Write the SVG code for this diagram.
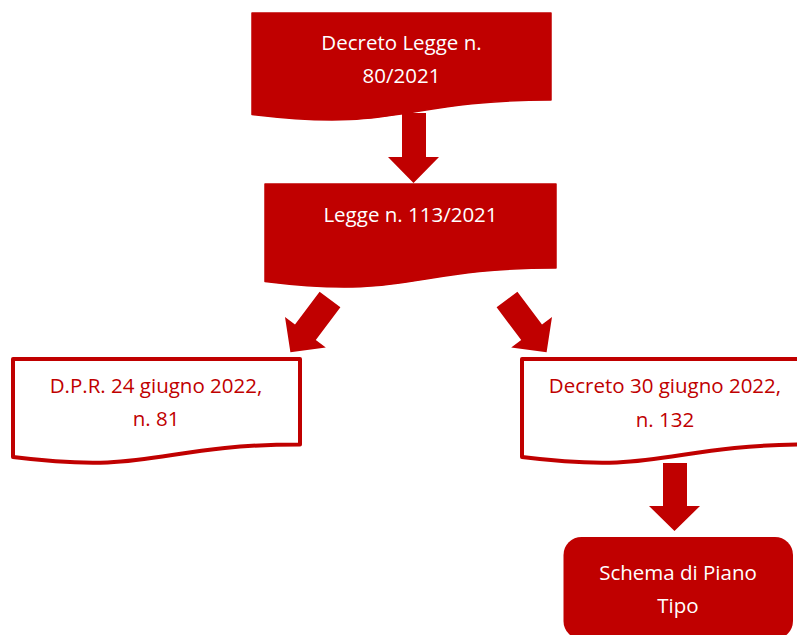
<svg xmlns="http://www.w3.org/2000/svg" width="797" height="635" viewBox="0 0 797 635">
<style>
.solid{fill:#C00000;stroke:#C00000;stroke-width:1.5;stroke-linejoin:round}
.outline{fill:#FFFFFF;stroke:#C00000;stroke-width:4;stroke-linejoin:round}
.arrow{fill:#C00000;stroke:none}
text{font-family:"Open Sans","Noto Sans","Liberation Sans",sans-serif;font-size:20.5px;text-anchor:middle}
.w{fill:#FFFFFF}
.r{fill:#C00000}
</style>
<rect width="797" height="635" fill="#FFFFFF"/>
<g id="connectors">
<polygon class="arrow" points="402,113 426,113 426,157 439,157 413.5,183 388,157 402,157"/>
<polygon class="arrow" points="319.6,291.7 340.4,307.3 315.8,340.1 325.8,347.6 290.4,352.3 285,317 295,324.5"/>
<polygon class="arrow" points="517.4,291.7 496.6,307.3 521.2,340.1 511.2,347.6 546.6,352.3 552,317 542,324.5"/>
<polygon class="arrow" points="663,463 687,463 687,506 700,506 674.5,531 649,506 663,506"/>
</g>
<g id="n1">
<path class="solid" d="M252,13 L551,13 L551,100 C401.5,100 401.5,132.6 252,114.5 Z"/>
<text class="w" x="401.5" y="50">Decreto Legge n.</text>
<text class="w" x="401.5" y="83">80/2021</text>
</g>
<g id="n2">
<path class="solid" d="M265,184 L556,184 L556,268 C410.5,268 410.5,299.7 265,281.5 Z"/>
<text class="w" x="410.5" y="222">Legge n. 113/2021</text>
</g>
<g id="n3">
<path class="outline" d="M13,359 L300,359 L300,444.5 C156.5,444.5 156.5,475 13,457 Z"/>
<text class="r" x="156" y="393">D.P.R. 24 giugno 2022,</text>
<text class="r" x="156" y="426">n. 81</text>
</g>
<g id="n4">
<path class="outline" d="M522,359 L810,359 L810,444.5 C666,444.5 666,475 522,457 Z"/>
<text class="r" x="665" y="393">Decreto 30 giugno 2022,</text>
<text class="r" x="665" y="427">n. 132</text>
</g>
<g id="n5">
<rect x="563.5" y="537" width="229.5" height="102" rx="18" ry="18" fill="#C00000"/>
<text class="w" x="678" y="580">Schema di Piano</text>
<text class="w" x="678" y="613">Tipo</text>
</g>
</svg>
